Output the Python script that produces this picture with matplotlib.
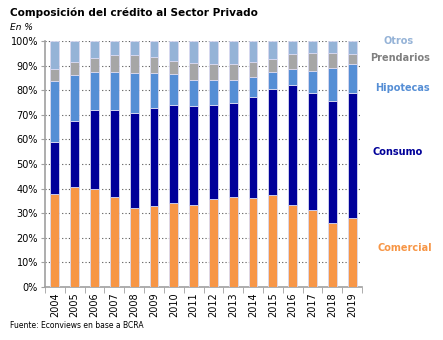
import matplotlib
matplotlib.use("Agg")
import matplotlib.pyplot as plt
import numpy as np

years = ["2004", "2005", "2006", "2007", "2008", "2009", "2010", "2011",
         "2012", "2013", "2014", "2015", "2016", "2017", "2018", "2019"]
# cumulative tops (%)
comercial_top = [37.8, 40.8, 39.8, 36.5, 32.1, 33.1, 34.1, 33.5,
                 35.9, 36.5, 36.0, 37.3, 33.2, 31.3, 25.9, 28.0]
consumo_top = [58.9, 67.6, 72.1, 72.1, 70.7, 72.8, 74.1, 73.6,
               74.1, 74.9, 77.1, 80.5, 82.2, 79.0, 75.7, 79.0]
hipotecas_top = [83.9, 86.3, 87.3, 87.5, 87.1, 87.1, 86.7, 84.3,
                 84.3, 84.3, 85.5, 87.5, 88.7, 87.9, 89.1, 90.7]
prendarios_top = [88.7, 91.3, 93.2, 94.2, 94.2, 93.4, 92.0, 91.2,
                  90.8, 90.7, 91.6, 92.8, 94.6, 95.0, 95.3, 94.8]

comercial = np.array(comercial_top)
consumo = np.array(consumo_top) - np.array(comercial_top)
hipotecas = np.array(hipotecas_top) - np.array(consumo_top)
prendarios = np.array(prendarios_top) - np.array(hipotecas_top)
otros = 100 - np.array(prendarios_top)

series = [("Comercial", comercial, "#F79646"),
          ("Consumo", consumo, "#000099"),
          ("Hipotecas", hipotecas, "#558ED5"),
          ("Prendarios", prendarios, "#A6A6A6"),
          ("Otros", otros, "#95B3D7")]

fig = plt.figure(figsize=(4.43, 3.40), dpi=100)
ax = fig.add_axes([45/443, 1-287/340, 317/443, 246/340])

x = np.arange(len(years))
bottom = np.zeros(len(years))
for name, vals, col in series:
    ax.bar(x, vals, bottom=bottom, width=0.45, color=col,
           edgecolor="#D9D9F0", linewidth=0.6, zorder=3)
    bottom += vals

ax.set_xlim(-0.5, len(years) - 0.5)
ax.set_ylim(0, 100)
ax.set_yticks(np.arange(0, 101, 10))
ax.set_yticklabels([f"{v}%" for v in range(0, 101, 10)], fontsize=7)
ax.yaxis.grid(True, linestyle=(0, (1, 2)), color="#555555", linewidth=0.8, zorder=0)

ax.set_xticks(x)
ax.set_xticklabels(years, rotation=90, fontsize=7)
ax.set_xticks(np.arange(-0.5, len(years), 1), minor=True)
ax.tick_params(axis="x", which="major", length=0, pad=4)
ax.tick_params(axis="x", which="minor", length=4, color="#A0A0A0")
ax.tick_params(axis="y", length=3, color="#A0A0A0", pad=2)

for s in ["top", "right"]:
    ax.spines[s].set_visible(False)
for s in ["left", "bottom"]:
    ax.spines[s].set_color("#A0A0A0")
    ax.spines[s].set_linewidth(1.2)

labels = [("Otros", 41, "#95B3D7", 399),
          ("Prendarios", 58, "#808080", 400),
          ("Hipotecas", 88, "#558ED5", 402),
          ("Consumo", 152, "#000099", 398),
          ("Comercial", 248, "#F79646", 405)]
for txt, ypx, col, xpx in labels:
    fig.text(xpx/443, 1-ypx/340, txt, color=col, fontsize=7, fontweight="bold",
             ha="center", va="center")

fig.text(10/443, 1-13/340, "Composición del crédito al Sector Privado",
         fontsize=7.6, fontweight="bold", ha="left", va="center")
fig.text(10/443, 1-27/340, "En %", fontsize=6.5, style="italic", ha="left", va="center")
fig.text(10/443, 1-326/340, "Fuente: Econviews en base a BCRA", fontsize=5.5,
         ha="left", va="center")

fig.savefig("out.png", dpi=100)
